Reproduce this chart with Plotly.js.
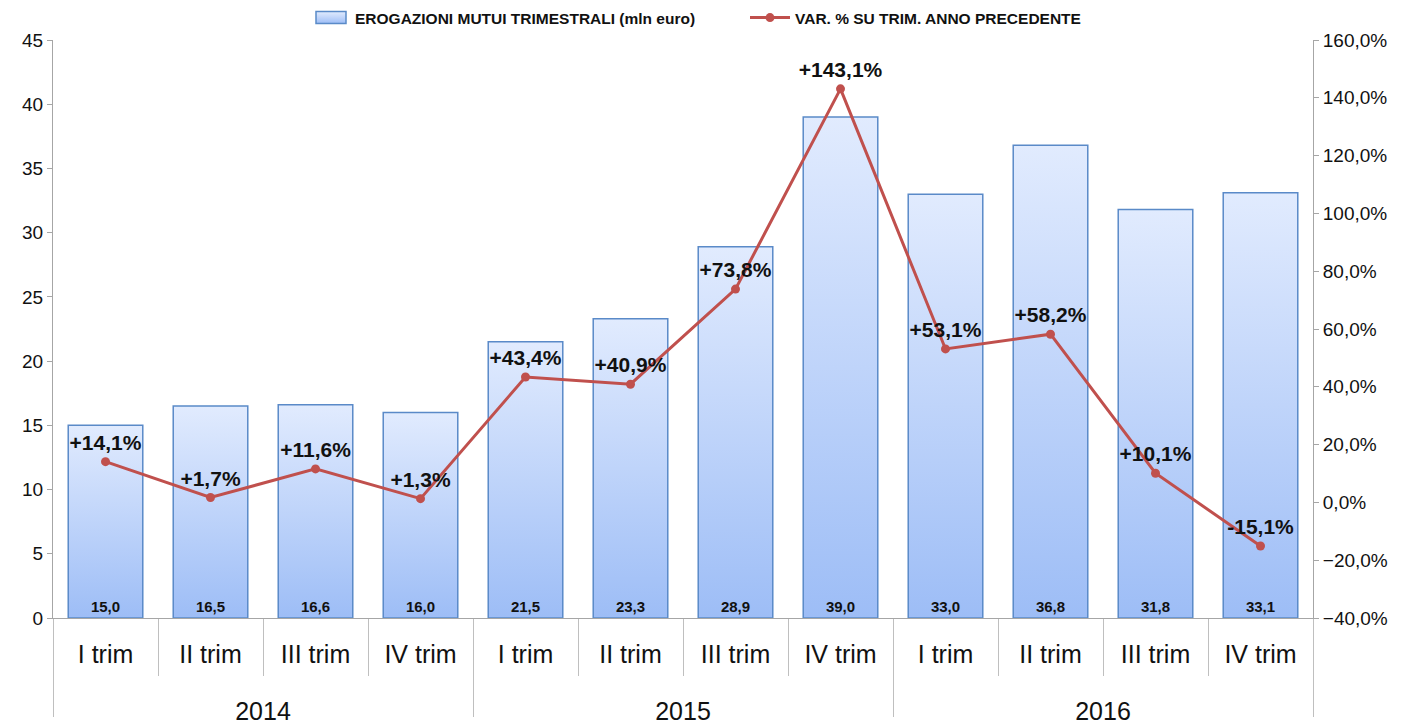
<!DOCTYPE html>
<html>
<head>
<meta charset="utf-8">
<script src="https://cdn.plot.ly/plotly-3.0.1.min.js"></script>
<style>
html,body{margin:0;padding:0;background:#fff;}
#chart{width:1413px;height:727px;}
</style>
</head>
<body>
<div id="chart"></div>
<script>
var years = ["2014","2014","2014","2014","2015","2015","2015","2015","2016","2016","2016","2016"];
var quarters = ["I trim","II trim","III trim","IV trim","I trim","II trim","III trim","IV trim","I trim","II trim","III trim","IV trim"];
var erogazioni = [15.0,16.5,16.6,16.0,21.5,23.3,28.9,39.0,33.0,36.8,31.8,33.1];
var variazioni = [14.1,1.7,11.6,1.3,43.4,40.9,73.8,143.1,53.1,58.2,10.1,-15.1];
var barName = "EROGAZIONI MUTUI TRIMESTRALI (mln euro)";
var lineName = "VAR. % SU TRIM. ANNO PRECEDENTE";

function fmt(v, d){ return v.toFixed(d).replace('.', ','); }
var barText = erogazioni.map(function(v){ return fmt(v,1); });
var lineText = variazioni.map(function(v){ return (v>=0?'+':'') + fmt(v,1) + '%'; });
// extra blank line under quarter labels to push the year row down
var quarterLabels = quarters.map(function(q){ return q + '<br>\u00a0'; });

var FONT = "Liberation Sans, Arial, sans-serif";

var traces = [
  {
    type: 'bar',
    name: barName,
    x: [years, quarterLabels],
    y: erogazioni,
    width: 0.71,
    marker: {color: '#bcd3fa', line: {color: '#5a8ac8', width: 1.5}},
    text: barText,
    textposition: 'inside',
    insidetextanchor: 'start',
    textangle: 0,
    constraintext: 'none',
    textfont: {family: FONT, size: 15, color: '#111', weight: 'bold'},
    hoverinfo: 'skip'
  },
  {
    type: 'scatter',
    mode: 'lines+markers+text',
    name: lineName,
    x: [years, quarterLabels],
    y: variazioni,
    yaxis: 'y2',
    line: {color: '#c0504d', width: 3},
    marker: {color: '#c0504d', size: 9},
    text: lineText,
    textposition: 'top center',
    textfont: {family: FONT, size: 21, color: '#111', weight: 'bold'},
    cliponaxis: false,
    hoverinfo: 'skip'
  }
];

var layout = {
  width: 1413,
  height: 727,
  margin: {l: 53, r: 100, t: 40, b: 109, autoexpand: false},
  paper_bgcolor: '#fff',
  plot_bgcolor: '#fff',
  separators: ',.',
  showlegend: true,
  legend: {
    orientation: 'h',
    x: 0.2, xanchor: 'left',
    y: 1.038, yanchor: 'middle',
    font: {family: FONT, size: 15.5, color: '#111', weight: 'bold'},
    itemwidth: 40,
    entrywidth: 385,
    traceorder: 'normal'
  },
  xaxis: {
    type: 'multicategory',
    range: [-0.5, 11.5],
    showline: true,
    linecolor: '#a6a6a6',
    linewidth: 1,
    ticks: 'outside',
    tickson: 'boundaries',
    ticklen: 57,
    tickcolor: '#bfbfbf',
    tickwidth: 1,
    ticklabelstandoff: 14,
    showdividers: true,
    dividercolor: '#bfbfbf',
    dividerwidth: 1,
    tickfont: {family: FONT, size: 25, color: '#111'},
    showgrid: false,
    zeroline: false,
    automargin: false,
    fixedrange: true
  },
  yaxis: {
    range: [0, 45],
    dtick: 5,
    showline: true,
    linecolor: '#a6a6a6',
    linewidth: 1,
    ticks: 'outside',
    ticklen: 5,
    tickcolor: '#a6a6a6',
    showgrid: false,
    zeroline: false,
    automargin: false,
    tickfont: {family: FONT, size: 19, color: '#111'},
    fixedrange: true
  },
  yaxis2: {
    overlaying: 'y',
    side: 'right',
    range: [-40, 160],
    dtick: 20,
    tickformat: '.1f',
    ticksuffix: '%',
    showline: true,
    linecolor: '#a6a6a6',
    linewidth: 1,
    ticks: 'outside',
    ticklen: 5,
    tickcolor: '#a6a6a6',
    showgrid: false,
    zeroline: false,
    automargin: false,
    tickfont: {family: FONT, size: 19, color: '#111'},
    fixedrange: true
  }
};

var gd = document.getElementById('chart');

function decorate(){
  var svg = gd.querySelector('svg.main-svg');
  var ns = 'http://www.w3.org/2000/svg';
  if (!document.getElementById('barGradRef')) {
    var defs = svg.querySelector('defs');
    if (!defs) { defs = document.createElementNS(ns, 'defs'); svg.insertBefore(defs, svg.firstChild); }
    var grad = document.createElementNS(ns, 'linearGradient');
    grad.setAttribute('id', 'barGradRef');
    grad.setAttribute('x1', '0'); grad.setAttribute('y1', '0');
    grad.setAttribute('x2', '0'); grad.setAttribute('y2', '1');
    [['0', '#e1ebfe'], ['1', '#9dbdf6']].forEach(function(s){
      var st = document.createElementNS(ns, 'stop');
      st.setAttribute('offset', s[0]);
      st.setAttribute('stop-color', s[1]);
      grad.appendChild(st);
    });
    defs.appendChild(grad);
  }
  gd.querySelectorAll('.barlayer .point path').forEach(function(p){ p.style.fill = 'url(#barGradRef)'; });
  var legTraces = document.querySelectorAll('.legend g.traces');
  if (legTraces.length) {
    legTraces[0].querySelectorAll('.legendpoints path').forEach(function(p){
      p.style.fill = 'url(#barGradRef)';
      p.style.stroke = '#5a8ac8';
      p.style.strokeWidth = '1.5px';
      p.setAttribute('d', 'M-14,-6h30v12h-30Z');
    });
  }
  document.querySelectorAll('g.xtick2').forEach(function(g){
    if (!g.getAttribute('data-shifted')) {
      var t = g.querySelector('text');
      if (t) {
        var y = parseFloat(t.getAttribute('y')) || 0;
        t.setAttribute('y', y + 8);
        t.querySelectorAll('tspan').forEach(function(ts){
          if (ts.getAttribute('y')) ts.setAttribute('y', parseFloat(ts.getAttribute('y')) + 8);
        });
      }
      g.setAttribute('data-shifted', '1');
    }
  });
}

Plotly.newPlot(gd, traces, layout, {displayModeBar: false, staticPlot: true}).then(function(){
  decorate();
  setTimeout(decorate, 0);
  setTimeout(decorate, 100);
});
</script>
</body>
</html>
